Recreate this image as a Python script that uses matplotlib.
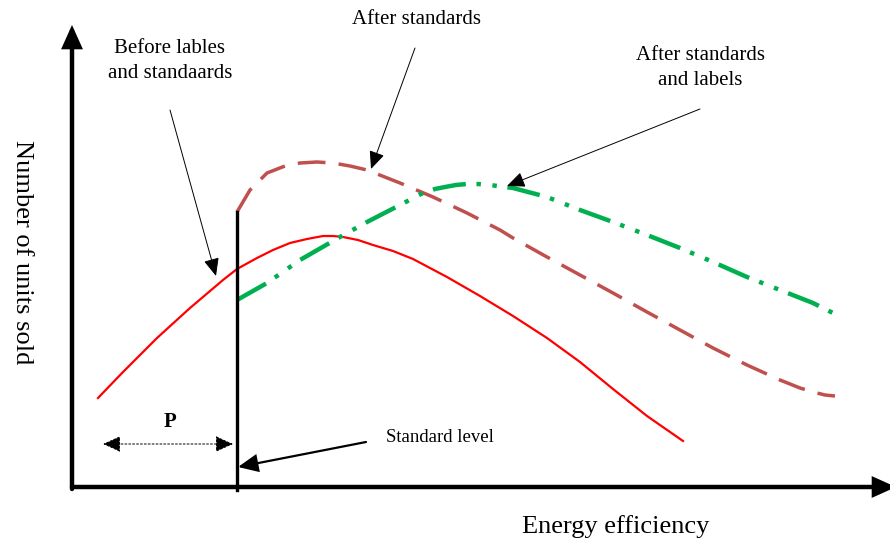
import matplotlib.pyplot as plt

plt.rcParams['font.family'] = ['Liberation Serif', 'DejaVu Serif']

# curves (x = efficiency, y = units sold, screen-like scale)
before_x = [98, 123, 157, 190, 223, 237, 257, 273, 290, 307, 323, 333, 343, 358, 373,
            393, 413, 430, 447, 480, 513, 547, 580, 613, 647, 683]
before_y = [398, 372, 338, 308, 280, 269, 258, 250, 243, 239, 236, 236, 237, 240, 245,
            251, 259, 268, 277, 296, 316, 338, 362, 389, 416, 441]

after_std_x = [237, 250, 267, 285, 300, 317, 333, 350, 367, 400, 433, 467, 500, 513,
               547, 580, 613, 647, 680, 713, 747, 780, 800, 813, 825, 835]
after_std_y = [212, 190, 173, 166, 163, 162, 163, 166, 170, 183, 197, 213, 230, 238,
               257, 275, 293, 312, 330, 348, 365, 380, 388, 392, 395, 396]

after_lab_x = [237, 267, 300, 340, 367, 400, 423, 435, 445, 456, 467, 478, 490, 513,
               547, 580, 613, 647, 680, 713, 747, 780, 813, 837]
after_lab_y = [300, 283, 260, 237, 222, 205, 193, 189, 187, 185, 184, 184, 185, 188,
               197, 210, 222, 235, 248, 262, 277, 290, 303, 315]

std_level = 237
x_origin, y_origin = 72, 487

fig = plt.figure(figsize=(8.9, 5.42), dpi=100)
ax = fig.add_axes([0, 0, 1, 1])
ax.set_xlim(0, 890)
ax.set_ylim(542, 0)
ax.axis('off')

# axes with arrow heads
axis_arrow = dict(arrowstyle='-|>,head_length=0.6,head_width=0.27', lw=3.2,
                  color='black', mutation_scale=20, shrinkA=0, shrinkB=0,
                  joinstyle='miter')
ax.annotate('', xy=(x_origin, 25), xytext=(x_origin, y_origin + 2),
            arrowprops=axis_arrow, annotation_clip=False)
ax.annotate('', xy=(896, y_origin), xytext=(x_origin, y_origin),
            arrowprops=axis_arrow, annotation_clip=False)

# curves
ax.plot(before_x, before_y, color='red', lw=1.6)
ax.plot(after_std_x, after_std_y, color='#c0504d', lw=2.5, linestyle=(0, (8, 3.8)))
ax.plot(after_lab_x, after_lab_y, color='#00b050', lw=3.2,
        linestyle=(0, (7.5, 2.4, 1, 2.6, 1, 2.4)))

# standard level line
ax.plot([std_level, std_level], [after_std_y[0], y_origin + 3], color='black', lw=2.4)

# labels
ax.text(616, 527, 'Energy efficiency', fontsize=19, ha='center', va='center')
ax.text(22, 252, 'Number of units sold', fontsize=19, ha='center', va='center', rotation=-90)

thin = dict(arrowstyle='-|>,head_length=0.55,head_width=0.24', lw=0.7, color='black',
            mutation_scale=20, shrinkA=0, shrinkB=0, joinstyle='miter')
ax.text(170, 61, 'Before lables\nand standaards', fontsize=15, ha='center', va='center',
        linespacing=1.45)
ax.annotate('', xy=(216, 276), xytext=(170, 110), arrowprops=thin)

ax.text(416, 19, 'After standards', fontsize=15, ha='center', va='center')
ax.annotate('', xy=(371, 169), xytext=(415, 48), arrowprops=thin)

ax.text(700, 68, 'After standards\nand labels', fontsize=15, ha='center', va='center',
        linespacing=1.45)
ax.annotate('', xy=(507, 186), xytext=(700, 109), arrowprops=thin)

ax.text(386, 438, 'Standard level', fontsize=13.5, ha='left', va='center')
ax.annotate('', xy=(238, 467), xytext=(366, 442),
            arrowprops=dict(arrowstyle='-|>,head_length=0.6,head_width=0.27', lw=1.6,
                            color='black', mutation_scale=20, shrinkA=0, shrinkB=0,
                            joinstyle='miter'))

# P distance arrow
ax.text(170, 422, 'P', fontsize=15, fontweight='bold', ha='center', va='center')
ax.annotate('', xy=(103, 444), xytext=(233, 444),
            arrowprops=dict(arrowstyle='<|-|>,head_length=0.55,head_width=0.25', lw=0.7,
                            color='black', linestyle=(0, (2, 2)),
                            mutation_scale=20, shrinkA=0, shrinkB=0))

fig.savefig('out.png', dpi=100)
